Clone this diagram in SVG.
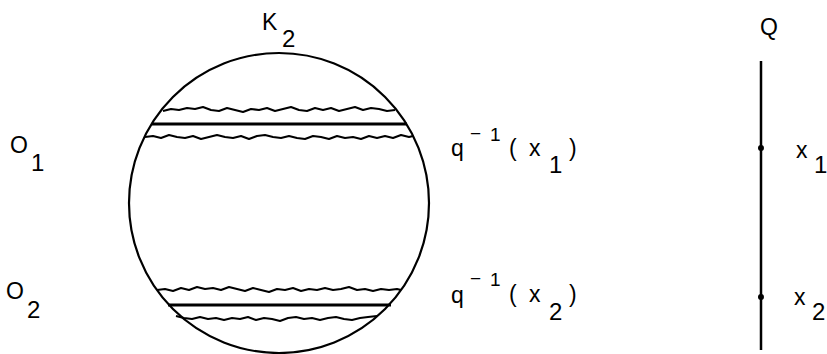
<svg xmlns="http://www.w3.org/2000/svg" width="827" height="354" viewBox="0 0 827 354">
<style>
.t{font-family:"Liberation Sans","DejaVu Sans",sans-serif;font-size:23px;fill:#000}
.s{font-family:"Liberation Sans","DejaVu Sans",sans-serif;font-size:24px;fill:#000}
.p{font-family:"Liberation Sans","DejaVu Sans",sans-serif;font-size:19px;fill:#000}
.w{fill:none;stroke:#000;stroke-width:2;stroke-linejoin:round}
.st{fill:none;stroke:#000;stroke-width:3}
</style>
<rect width="827" height="354" fill="#fff"/>
<g id="K2">
<circle cx="279" cy="203" r="150" fill="none" stroke="#000" stroke-width="2.2"/>
<text class="t" x="262" y="30">K</text><text class="s" x="282" y="47">2</text>
</g>
<g id="fibre1">
<polyline class="w" points="163,111 171,109 179,110 187,108 195,109 203,107 211,110 219,111 227,108 235,110 243,112 251,109 259,110 267,108 275,111 283,109 291,107 299,110 307,111 315,108 323,110 331,108 339,111 347,109 355,107 363,110 371,108 379,109 387,111 395,110"/>
<line class="st" x1="152" y1="124" x2="407" y2="124"/>
<polyline class="w" points="145,137 153,136 161,138 169,135 177,137 185,138 193,136 201,139 209,137 217,135 225,137 233,138 241,136 249,139 257,136 265,135 273,137 281,138 289,136 297,138 305,139 313,136 321,137 329,139 337,136 345,138 353,137 361,139 369,136 377,138 385,136 393,138 401,135 409,137 413,136"/>
</g>
<g id="fibre2">
<polyline class="w" points="157,290 165,289 173,291 181,288 189,290 197,287 205,289 213,288 221,290 229,287 237,289 245,291 253,288 261,290 269,292 277,289 285,290 293,288 301,291 309,289 317,290 325,288 333,290 341,289 349,287 357,290 365,289 373,291 381,289 389,290 397,289 401,290"/>
<line class="st" x1="168" y1="305" x2="391" y2="305"/>
<polyline class="w" points="176,316 184,318 192,319 200,317 208,319 216,318 224,320 232,318 240,319 248,317 256,320 264,318 272,319 280,321 288,318 296,317 304,319 312,318 320,320 328,318 336,317 344,319 352,320 360,318 368,317 377,316"/>
</g>
<g id="O1"><text class="t" x="10" y="153">O</text><text class="s" x="31" y="171">1</text></g>
<g id="O2"><text class="t" x="6" y="299">O</text><text class="s" x="27" y="318">2</text></g>
<g id="label1">
<text class="t" x="451" y="156">q</text>
<text class="p" x="470" y="140">−</text><text class="p" x="490" y="141">1</text>
<text class="t" x="509" y="156">(</text><text class="t" x="529" y="156">x</text>
<text class="s" x="549" y="173">1</text><text class="t" x="569" y="156">)</text>
</g>
<g id="label2">
<text class="t" x="451" y="303">q</text>
<text class="p" x="470" y="285">−</text><text class="p" x="490" y="286">1</text>
<text class="t" x="509" y="302">(</text><text class="t" x="529" y="302">x</text>
<text class="s" x="549" y="320">2</text><text class="t" x="569" y="302">)</text>
</g>
<g id="Q">
<text class="t" x="760" y="35">Q</text>
<line x1="761" y1="61" x2="761" y2="350" stroke="#000" stroke-width="2.5"/>
</g>
<g id="x1"><circle cx="761" cy="148" r="3"/><text class="t" x="796" y="158">x</text><text class="s" x="814" y="173">1</text></g>
<g id="x2"><circle cx="761" cy="297" r="3"/><text class="t" x="794" y="305">x</text><text class="s" x="812" y="320">2</text></g>
</svg>
